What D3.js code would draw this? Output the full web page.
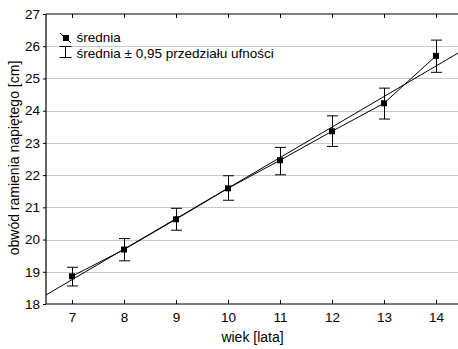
<!DOCTYPE html>
<html><head><meta charset="utf-8">
<script src="https://cdn.jsdelivr.net/npm/d3@7"></script>
<style>body{margin:0;background:#fff}svg{display:block}text{font-family:"Liberation Sans",Arial,sans-serif;fill:#000}</style>
</head><body><svg id="c" width="458" height="349"></svg>
<script>
const ages = [7, 8, 9, 10, 11, 12, 13, 14];
const means = [18.86, 19.69, 20.63, 21.59, 22.46, 23.36, 24.23, 25.70];
const ciLow = [18.56, 19.34, 20.29, 21.22, 22.01, 22.89, 23.74, 25.19];
const ciHigh = [19.14, 20.03, 20.97, 21.98, 22.86, 23.84, 24.70, 26.19];
const fitX = [6.5, 14.5];
const fitY = [18.28, 25.86];
const yTicks = [18, 19, 20, 21, 22, 23, 24, 25, 26, 27];
const xTicks = [7, 8, 9, 10, 11, 12, 13, 14];
const xLabel = "wiek [lata]";
const yLabel = "obwód ramienia napiętego [cm]";
const legendLabels = ["średnia", "średnia ± 0,95 przedziału ufności"];

const FONT = "Liberation Sans, Arial, sans-serif";
const svg = d3.select("#c");
const L = 46, R = 462, T = 14, B = 304;
const x = d3.scaleLinear().domain([6.5, 14.5]).range([L, R]);
const y = d3.scaleLinear().domain([18, 27]).range([B, T]);

// gridlines
svg.append("g").selectAll("line").data(yTicks.slice(1, -1)).join("line")
  .attr("x1", L).attr("x2", R).attr("y1", d => Math.round(y(d)) + 0.5).attr("y2", d => Math.round(y(d)) + 0.5)
  .attr("stroke", "#c8c8c8").attr("stroke-width", 1);

svg.append("clipPath").attr("id", "pc").append("rect")
  .attr("x", L).attr("y", T).attr("width", R - L).attr("height", B - T);
const plot = svg.append("g").attr("clip-path", "url(#pc)");

// regression line
plot.append("line").attr("x1", x(fitX[0])).attr("y1", y(fitY[0]))
  .attr("x2", x(fitX[1])).attr("y2", y(fitY[1])).attr("stroke", "#000").attr("stroke-width", 1);

// mean line
plot.append("path").datum(ages.map((a, i) => [a, means[i]]))
  .attr("d", d3.line().x(d => x(d[0])).y(d => y(d[1])))
  .attr("fill", "none").attr("stroke", "#000").attr("stroke-width", 1);

// error bars
const eb = plot.append("g").attr("stroke", "#000").attr("stroke-width", 1);
ages.forEach((a, i) => {
  const cx = Math.round(x(a)) + 0.5;
  eb.append("line").attr("x1", cx).attr("x2", cx).attr("y1", y(ciLow[i])).attr("y2", y(ciHigh[i]));
  eb.append("line").attr("x1", cx - 5.5).attr("x2", cx + 5.5).attr("y1", y(ciLow[i])).attr("y2", y(ciLow[i]));
  eb.append("line").attr("x1", cx - 5.5).attr("x2", cx + 5.5).attr("y1", y(ciHigh[i])).attr("y2", y(ciHigh[i]));
});
plot.append("g").selectAll("rect").data(ages).join("rect")
  .attr("x", (d) => x(d) - 3).attr("y", (d, i) => y(means[i]) - 3)
  .attr("width", 6).attr("height", 6).attr("fill", "#000");

// axes
const ax = svg.append("g").attr("stroke", "#000").attr("stroke-width", 1.2);
ax.append("line").attr("x1", L).attr("x2", L).attr("y1", T).attr("y2", B);
ax.append("line").attr("x1", L).attr("x2", R).attr("y1", T).attr("y2", T);
ax.append("line").attr("x1", L).attr("x2", R).attr("y1", B).attr("y2", B);

svg.append("g").attr("transform", `translate(0,${B})`)
  .call(d3.axisBottom(x).tickValues(xTicks).tickSize(-4).tickPadding(8).tickFormat(d3.format("d")))
  .call(g => { g.select(".domain").remove(); g.selectAll("text").attr("font-size", 13.5).style("font-family", FONT); g.selectAll("line").attr("stroke", "#000"); });
svg.append("g").attr("transform", `translate(0,${T})`)
  .call(d3.axisTop(x).tickValues(xTicks).tickSize(-4).tickFormat(""))
  .call(g => { g.select(".domain").remove(); g.selectAll("line").attr("stroke", "#000"); });
svg.append("g").attr("transform", `translate(${L},0)`)
  .call(d3.axisLeft(y).tickValues(yTicks).tickSize(3).tickPadding(3).tickFormat(d3.format("d")))
  .call(g => { g.select(".domain").remove(); g.selectAll("text").attr("font-size", 13.5).style("font-family", FONT); g.selectAll("line").attr("stroke", "#000"); });

// labels
svg.append("text").attr("x", 252.5).attr("y", 341.5).attr("text-anchor", "middle")
  .attr("font-size", 14).text(xLabel);
svg.append("text").attr("transform", `translate(18.5,158) rotate(-90)`)
  .attr("text-anchor", "middle").attr("font-size", 14).text(yLabel);

// legend
const lg = svg.append("g");
lg.append("line").attr("x1", 60).attr("y1", 33).attr("x2", 71).attr("y2", 43).attr("stroke", "#000");
lg.append("rect").attr("x", 63).attr("y", 35).attr("width", 6).attr("height", 6).attr("fill", "#000");
lg.append("line").attr("x1", 65.5).attr("x2", 65.5).attr("y1", 46).attr("y2", 57).attr("stroke", "#000");
lg.append("line").attr("x1", 59.5).attr("x2", 71.5).attr("y1", 46.5).attr("y2", 46.5).attr("stroke", "#000");
lg.append("line").attr("x1", 59.5).attr("x2", 71.5).attr("y1", 57.5).attr("y2", 57.5).attr("stroke", "#000");
lg.append("text").attr("x", 76.5).attr("y", 42).attr("font-size", 13.5).attr("textLength", null).text(legendLabels[0]);
lg.append("text").attr("x", 76.5).attr("y", 57.5).attr("font-size", 13.5).text(legendLabels[1]);
</script></body></html>
